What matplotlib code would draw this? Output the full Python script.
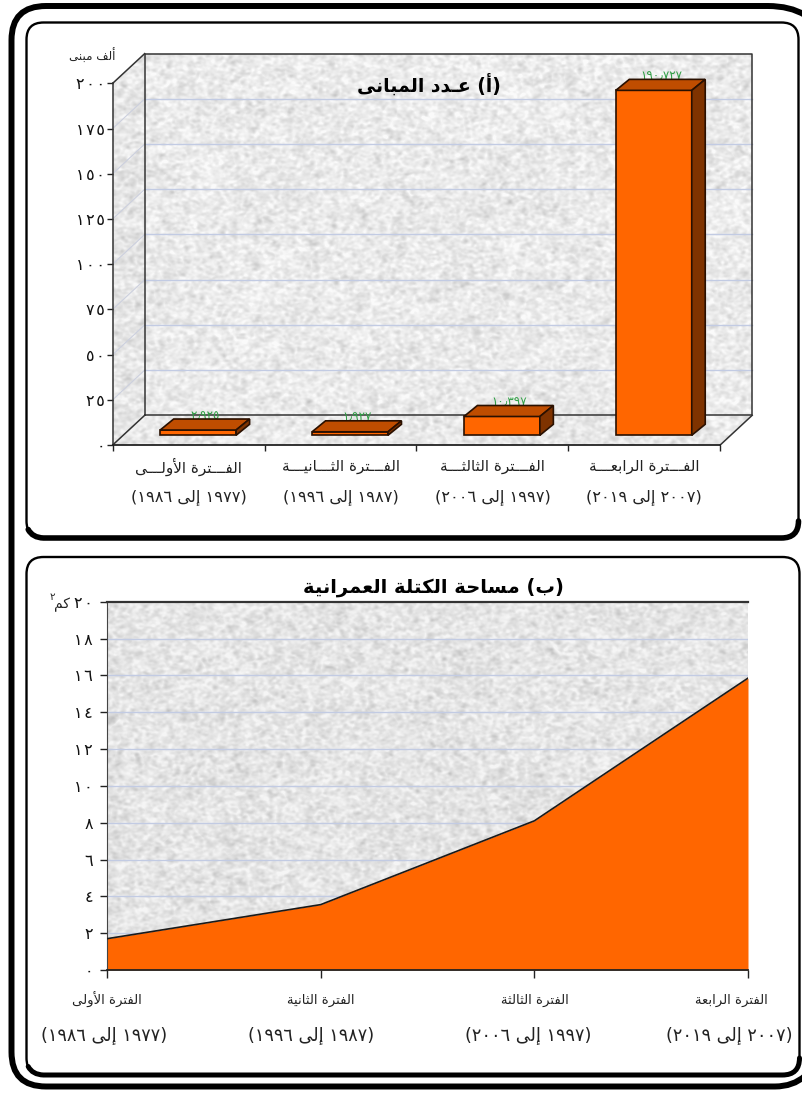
import numpy as np
import matplotlib
matplotlib.use("Agg")
import matplotlib.pyplot as plt
from matplotlib.patches import FancyBboxPatch, PathPatch, Polygon
from matplotlib.path import Path
from matplotlib.transforms import Affine2D, IdentityTransform

# ---------- data ----------
building_periods = ["الفـــترة الأولـــى", "الفـــترة الثـــانيـــة",
                    "الفـــترة الثالثـــة", "الفـــترة الرابعـــة"]
building_ranges = ["(١٩٧٧ إلى ١٩٨٦)", "(١٩٨٧ إلى ١٩٩٦)",
                   "(١٩٩٧ إلى ٢٠٠٦)", "(٢٠٠٧ إلى ٢٠١٩)"]
buildings_thousands = [2.925, 1.927, 10.397, 190.727]
building_ticks = [0, 25, 50, 75, 100, 125, 150, 175, 200]

area_periods = ["الفترة الأولى", "الفترة الثانية", "الفترة الثالثة", "الفترة الرابعة"]
area_ranges = building_ranges
area_km2 = [1.7, 3.55, 8.1, 15.85]
area_ticks = [0, 2, 4, 6, 8, 10, 12, 14, 16, 18, 20]

title_top = "(أ) عـدد المبانى"
title_bottom = "(ب) مساحة الكتلة العمرانية"
unit_top = "ألف مبنى"
unit_bottom = "كم"
unit_bottom_power = "٢"

# ---------- Arabic text helpers (matplotlib does no shaping or bidi) ----------
FORMS = {"ء": (0xFE80, 1), "آ": (0xFE81, 2), "أ": (0xFE83, 2), "ؤ": (0xFE85, 2),
         "إ": (0xFE87, 2), "ئ": (0xFE89, 4), "ا": (0xFE8D, 2), "ب": (0xFE8F, 4),
         "ة": (0xFE93, 2), "ت": (0xFE95, 4), "ث": (0xFE99, 4), "ج": (0xFE9D, 4),
         "ح": (0xFEA1, 4), "خ": (0xFEA5, 4), "د": (0xFEA9, 2), "ذ": (0xFEAB, 2),
         "ر": (0xFEAD, 2), "ز": (0xFEAF, 2), "س": (0xFEB1, 4), "ش": (0xFEB5, 4),
         "ص": (0xFEB9, 4), "ض": (0xFEBD, 4), "ط": (0xFEC1, 4), "ظ": (0xFEC5, 4),
         "ع": (0xFEC9, 4), "غ": (0xFECD, 4), "ف": (0xFED1, 4), "ق": (0xFED5, 4),
         "ك": (0xFED9, 4), "ل": (0xFEDD, 4), "م": (0xFEE1, 4), "ن": (0xFEE5, 4),
         "ه": (0xFEE9, 4), "و": (0xFEED, 2), "ى": (0xFEEF, 2), "ي": (0xFEF1, 4)}
LAM_ALEF = {"ا": 0xFEFB, "أ": 0xFEF7, "إ": 0xFEF9, "آ": 0xFEF5}
KASHIDA = "\u0640"
DIGITS = "٠١٢٣٤٥٦٧٨٩٫"
MIRROR = {"(": ")", ")": "("}


def joins_next(c):
    return c == KASHIDA or (c in FORMS and FORMS[c][1] == 4)


def joins_prev(c):
    return c == KASHIDA or (c in FORMS and FORMS[c][1] >= 2)


def shape(text):
    """Logical Arabic string to positional glyphs in left-to-right visual order."""
    out = []
    i = 0
    while i < len(text):
        c = text[i]
        prev = text[i - 1] if i else ""
        nxt = text[i + 1] if i + 1 < len(text) else ""
        link_prev = bool(prev) and joins_next(prev) and joins_prev(c)
        if c == "ل" and nxt in LAM_ALEF:
            out.append(chr(LAM_ALEF[nxt] + (1 if link_prev else 0)))
            i += 2
            continue
        if c in FORMS:
            base, n = FORMS[c]
            link_next = n == 4 and bool(nxt) and joins_prev(nxt)
            if n == 1:
                g = base
            elif n == 2:
                g = base + (1 if link_prev else 0)
            else:
                g = base + (3 if link_prev and link_next else 2 if link_next
                            else 1 if link_prev else 0)
            out.append(chr(g))
        else:
            out.append(MIRROR.get(c, c))
        i += 1
    # Reverse for right-to-left display, keeping digit runs in reading order.
    runs, cur = [], ""
    for g in out:
        if g in DIGITS:
            cur += g
        else:
            if cur:
                runs.append(cur)
                cur = ""
            runs.append(g)
    if cur:
        runs.append(cur)
    return "".join(reversed(runs))


def arabic_number(v, decimals=0):
    s = f"{v:.{decimals}f}"
    return s.translate(str.maketrans("0123456789.", "٠١٢٣٤٥٦٧٨٩٫"))


def tick_text(v):
    return "\u200a".join(arabic_number(v))


# ---------- page ----------
W, H = 803, 1093
plt.rcParams["font.family"] = ["DejaVu Sans"]
fig = plt.figure(figsize=(W / 100, H / 100), dpi=100, facecolor="white")


def axes_px(left, top, right, bottom, **kw):
    return fig.add_axes([left / W, 1 - bottom / H, (right - left) / W, (bottom - top) / H], **kw)


page = fig.add_axes([0, 0, 1, 1], zorder=0)
page.axis("off")


# Stone-like wall fill: speckled grey built from smoothed noise.
def smooth(a, sigma_x, sigma_y):
    fy = np.fft.fftfreq(a.shape[0])[:, None]
    fx = np.fft.rfftfreq(a.shape[1])[None, :]
    kernel = np.exp(-2 * np.pi ** 2 * ((fx * sigma_x) ** 2 + (fy * sigma_y) ** 2))
    return np.fft.irfft2(np.fft.rfft2(a) * kernel, s=a.shape)


rng = np.random.default_rng(7)
fine = smooth(rng.normal(size=(H, W)), 1.5, 1.1)
fine /= fine.std()
ridges = smooth(rng.normal(size=(H, W)), 2.6, 2.6)
ridges /= ridges.std()
patches_lo = smooth(rng.normal(size=(H, W)), 12, 9)
patches_lo /= patches_lo.std()
stone = 234 + 6.5 * fine - 7 * np.abs(ridges) + 5 + 1 * patches_lo
stone = np.clip(stone, 190, 250) / 255


def stone_patch(vertices, darker=0.0):
    poly = Polygon(vertices, closed=True, transform=page.transData, facecolor="none", edgecolor="none")
    page.add_patch(poly)
    im = page.imshow(stone - darker, cmap="gray", vmin=0, vmax=1, extent=[0, W, H, 0],
                     aspect="auto", interpolation="bilinear", zorder=1)
    im.set_clip_path(poly)


# ---------- frames ----------
def rounded(x0, y0, x1, y1, r, lw, z=5):
    page.add_patch(FancyBboxPatch((x0 + r, y0 + r), x1 - x0 - 2 * r, y1 - y0 - 2 * r,
                                  boxstyle=f"round,pad={r},rounding_size={r}",
                                  facecolor="none", edgecolor="black", linewidth=lw, zorder=z))


def heavy_base(x0, x1, y, r, lw):
    verts = [(x0 + 0.1 * r, y - 0.5 * r), (x0 + 0.35 * r, y - 0.02 * r), (x0 + r, y), (x1 - r, y),
             (x1, y), (x1, y - r)]
    codes = [Path.MOVETO, Path.CURVE3, Path.CURVE3, Path.LINETO, Path.CURVE3, Path.CURVE3]
    page.add_patch(PathPatch(Path(verts, codes), facecolor="none", edgecolor="black",
                             linewidth=lw, capstyle="round", zorder=5))


C3, LT, MV = Path.CURVE3, Path.LINETO, Path.MOVETO
page.add_patch(PathPatch(
    Path([(805, 15), (790, 6), (768, 6), (46, 6), (11.5, 6), (11.5, 40), (11.5, 1052),
          (11.5, 1086.5), (46, 1086.5), (775, 1086.5), (793, 1086.5), (805, 1076)],
         [MV, C3, C3, LT, C3, C3, LT, C3, C3, LT, C3, C3]),
    facecolor="none", edgecolor="black", linewidth=4.3, capstyle="butt", zorder=5))

rounded(26.5, 22.5, 798.5, 538, 17, 1.7)
heavy_base(26.5, 798.5, 538, 17, 4.0)
rounded(26.5, 557, 799.5, 1075, 17, 1.7)
heavy_base(26.5, 799.5, 1075, 17, 3.6)

# ---------- top chart: pseudo-3D columns ----------
FLOOR_DX, FLOOR_DY = 32.0, 29.7
BAR_NEAR = (9.5, 9.7)
BAR_FAR = (23.0, 20.7)
BAR_WIDTH = 0.5

ax1 = axes_px(112.7, 83.3, 720.2, 445, zorder=2)
ax1.patch.set_alpha(0)
ax1.set_xlim(0, 4)
ax1.set_ylim(0, 200)
fig.canvas.draw()


def shifted(dx, dy):
    return ax1.transData + Affine2D().translate(dx, dy)


def to_page(x, v, dx=0.0, dy=0.0):
    px, py = ax1.transData.transform((x, v))
    return px + dx, H - (py + dy)


wall_top = building_ticks[-1]
stone_patch([to_page(0, 0, FLOOR_DX, FLOOR_DY), to_page(4, 0, FLOOR_DX, FLOOR_DY),
             to_page(4, wall_top, FLOOR_DX, FLOOR_DY), to_page(0, wall_top, FLOOR_DX, FLOOR_DY)])
stone_patch([to_page(0, 0), to_page(0, 0, FLOOR_DX, FLOOR_DY),
             to_page(0, wall_top, FLOOR_DX, FLOOR_DY), to_page(0, wall_top)], darker=0.015)
stone_patch([to_page(0, 0), to_page(4, 0), to_page(4, 0, FLOOR_DX, FLOOR_DY),
             to_page(0, 0, FLOOR_DX, FLOOR_DY)], darker=0.005)

GRID = "#c2cbe3"
WALL_EDGE = "#333333"
identity = IdentityTransform()


def display_line(p, q, **kw):
    a = ax1.transData.transform(p[:2]) + np.array(p[2:])
    b = ax1.transData.transform(q[:2]) + np.array(q[2:])
    ax1.plot([a[0], b[0]], [a[1], b[1]], transform=identity, clip_on=False, **kw)


for t in building_ticks[1:-1]:
    ax1.plot([0, 4], [t, t], color=GRID, lw=1.0, transform=shifted(FLOOR_DX, FLOOR_DY),
             clip_on=False, zorder=1)
    display_line((0, t, 0, 0), (0, t, FLOOR_DX, FLOOR_DY), color="#ccd0de", lw=0.8, zorder=1)

# Outline of the back wall, side wall and floor.
edge_kw = dict(color=WALL_EDGE, lw=1.1, zorder=1.5)
ax1.plot([0, 4, 4, 0, 0], [0, 0, wall_top, wall_top, 0], transform=shifted(FLOOR_DX, FLOOR_DY),
         clip_on=False, **edge_kw)
display_line((0, 0, 0, 0), (0, 0, FLOOR_DX, FLOOR_DY), **edge_kw)
display_line((4, 0, 0, 0), (4, 0, FLOOR_DX, FLOOR_DY), **edge_kw)
display_line((0, wall_top, 0, 0), (0, wall_top, FLOOR_DX, FLOOR_DY), **edge_kw)

FRONT, TOP, SIDE, OUTLINE = "#ff6600", "#bf4d00", "#7f3300", "#2a1000"
VALUE_GREEN = "#2f9e44"
for i, v in enumerate(buildings_thousands):
    x0, x1 = i + 0.5 - BAR_WIDTH / 2, i + 0.5 + BAR_WIDTH / 2
    # Value label sits just behind the column top, so the column partly covers it.
    lx, ly = ax1.transData.transform((i + 0.5, v)) + (BAR_FAR[0] - 6, BAR_FAR[1] + 3)
    ax1.text(lx, ly, shape(arabic_number(v, 3)), transform=identity, color=VALUE_GREEN,
             fontsize=8.6, ha="center", va="center", zorder=2, clip_on=False)
    near = shifted(*BAR_NEAR)
    ax1.bar(i + 0.5, v, width=BAR_WIDTH, color=FRONT, edgecolor=OUTLINE, linewidth=1.2,
            transform=near, clip_on=False, zorder=4)
    n0 = ax1.transData.transform((x0, v)) + BAR_NEAR
    n1 = ax1.transData.transform((x1, v)) + BAR_NEAR
    f0 = ax1.transData.transform((x0, v)) + BAR_FAR
    f1 = ax1.transData.transform((x1, v)) + BAR_FAR
    b1 = ax1.transData.transform((x1, 0)) + BAR_NEAR
    bf = ax1.transData.transform((x1, 0)) + BAR_FAR
    ax1.add_patch(Polygon([n0, n1, f1, f0], closed=True, transform=identity, facecolor=TOP,
                          edgecolor=OUTLINE, linewidth=1.2, clip_on=False, zorder=4))
    ax1.add_patch(Polygon([n1, f1, bf, b1], closed=True, transform=identity, facecolor=SIDE,
                          edgecolor=OUTLINE, linewidth=1.2, clip_on=False, zorder=4))

for s in ("top", "right"):
    ax1.spines[s].set_visible(False)
ax1.spines["left"].set_color(WALL_EDGE)
ax1.spines["left"].set_linewidth(1.1)
ax1.spines["bottom"].set_color("#222222")
ax1.spines["bottom"].set_linewidth(1.3)
ax1.set_xticks(range(5))
ax1.set_xticklabels([])
ax1.tick_params(axis="x", length=4.5, width=1, color="#222222")
ax1.set_yticks(building_ticks)
ax1.set_yticklabels([tick_text(t) for t in building_ticks], fontsize=11.5, color="#111111")
ax1.tick_params(axis="y", length=4, width=1, pad=1.5, color="#222222")
ax1.patch.set_visible(False)

TEXT = "#222222"
for i, (a, b) in enumerate(zip(building_periods, building_ranges)):
    ax1.annotate(shape(a), (i + 0.5, 0), xytext=(0, -22), textcoords="offset pixels", ha="center",
                 va="center", fontsize=11, color=TEXT, annotation_clip=False)
    ax1.annotate(shape(b), (i + 0.5, 0), xytext=(0, -52), textcoords="offset pixels", ha="center",
                 va="center", fontsize=11.7, color=TEXT, annotation_clip=False)

page.text(92, 56, shape(unit_top), fontsize=8.6, ha="center", va="center", color=TEXT, zorder=6)
page.text(429, 85, shape(title_top), fontsize=13.5, fontweight="bold", ha="center", va="center",
          color="black", zorder=6)

# ---------- bottom chart: filled area ----------
ax2 = axes_px(107, 601.7, 748, 970, zorder=2)
ax2.set_xlim(0, 3)
ax2.set_ylim(0, 20)
ax2.patch.set_visible(False)
stone_patch([(107, 601.7), (748, 601.7), (748, 970), (107, 970)], darker=0.02)

xs = np.arange(len(area_km2))
for t in area_ticks[1:-1]:
    ax2.axhline(t, color=GRID, lw=1.0, zorder=1)
ax2.fill_between(xs, area_km2, 0, color=FRONT, linewidth=0, zorder=2)
ax2.plot(xs, area_km2, color="#1a1a1a", lw=1.2, zorder=3)

ax2.spines["right"].set_visible(False)
ax2.spines["top"].set_color("#333333")
ax2.spines["top"].set_linewidth(1.6)
ax2.spines["left"].set_color("#444444")
ax2.spines["bottom"].set_color("#222222")
ax2.spines["bottom"].set_linewidth(1.3)
ax2.set_xticks(xs)
ax2.set_xticklabels([])
ax2.tick_params(axis="x", length=6, width=1, color="#222222")
ax2.set_yticks(area_ticks)
ax2.set_yticklabels([tick_text(t) for t in area_ticks], fontsize=11.5, color="#111111")
ax2.tick_params(axis="y", length=5, width=1, pad=5, color="#222222")

name_shift = [0, 0, 1, -17]
range_shift = [-3, -10, -6, -19]
for i in range(4):
    ax2.annotate(shape(area_periods[i]), (i, 0), xytext=(name_shift[i], -30), textcoords="offset pixels",
                 ha="center", va="center", fontsize=9.5, color=TEXT, annotation_clip=False)
    ax2.annotate(shape(area_ranges[i]), (i, 0), xytext=(range_shift[i], -65), textcoords="offset pixels",
                 ha="center", va="center", fontsize=12.8, color=TEXT, annotation_clip=False)

page.text(62, 605, shape(unit_bottom), fontsize=10, ha="center", va="center", color=TEXT, zorder=6)
page.text(52, 597, unit_bottom_power, fontsize=7.5, ha="center", va="center", color=TEXT, zorder=6)
page.text(433, 587, shape(title_bottom), fontsize=14, fontweight="bold", ha="center", va="center",
          color="black", zorder=6)

page.set_xlim(0, W)
page.set_ylim(H, 0)

fig.savefig("out.png", dpi=100, facecolor="white")
